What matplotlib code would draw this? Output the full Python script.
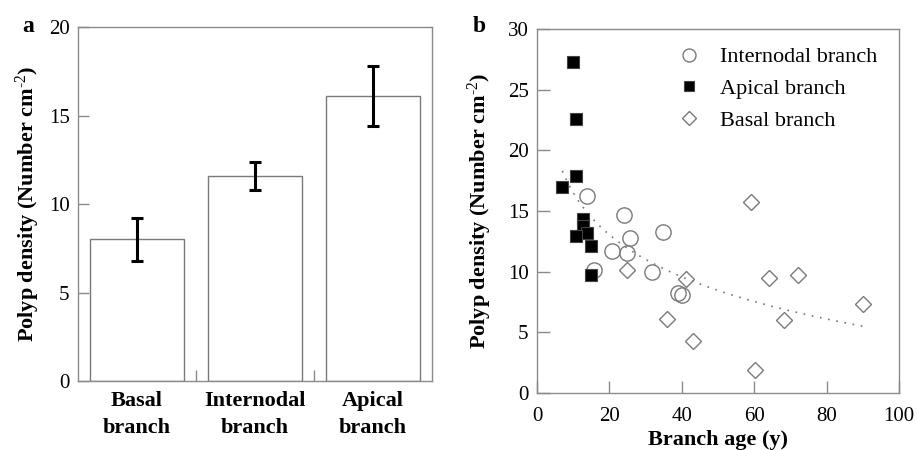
"""Polyp density by branch position (a) and by branch age (b)."""

import matplotlib

matplotlib.use("Agg")
import matplotlib.pyplot as plt
import numpy as np

plt.rcParams["font.family"] = ["Liberation Serif", "DejaVu Serif"]
plt.rcParams["mathtext.fontset"] = "custom"
plt.rcParams["mathtext.rm"] = "Liberation Serif"
plt.rcParams["mathtext.bf"] = "Liberation Serif:bold"
plt.rcParams["mathtext.default"] = "regular"

# panel a
categories = ["Basal\nbranch", "Internodal\nbranch", "Apical\nbranch"]
means = [8.0, 11.6, 16.1]
errors = [1.2, 0.8, 1.7]

# panel b
internodal_age = [13.9, 23.9, 34.9, 25.7, 20.8, 24.9, 15.8, 31.9, 39.0, 40.0]
internodal_density = [16.2, 14.7, 13.3, 12.8, 11.7, 11.5, 10.1, 10.0, 8.2, 8.1]
apical_age = [9.9, 10.9, 10.9, 6.8, 12.8, 12.8, 13.7, 10.8, 14.8, 14.8]
apical_density = [27.3, 22.6, 17.9, 17.0, 14.3, 13.8, 13.2, 12.9, 12.1, 9.7]
basal_age = [24.9, 41.1, 36.0, 43.1, 60.1, 64.2, 68.1, 59.0, 72.1, 90.1]
basal_density = [10.1, 9.4, 6.1, 4.3, 1.9, 9.5, 6.0, 15.7, 9.75, 7.3]
# logarithmic trend: y = a + b*ln(x)
trend_a, trend_b = 28.05, -5.01
trend_range = (7.0, 90.0)

SPINE = "#8a8a8a"
EDGE = "#7a7a7a"
FS = 15
LFS = 16
YLABEL = r"Polyp density (Number cm$^{\text{-2}}$)"

fig = plt.figure(figsize=(9.17, 4.5), dpi=100)

# ---- panel a ----
ax1 = fig.add_axes([0.085, 0.153, 0.386, 0.787])
x = np.arange(len(categories))
ax1.bar(x, means, width=0.8, color="white", edgecolor=EDGE, linewidth=1.0, zorder=2)
ax1.errorbar(x, means, yerr=errors, fmt="none", ecolor="black", elinewidth=2.2,
             capsize=4, capthick=2.2, zorder=3)
ax1.set_xlim(-0.5, 2.5)
ax1.set_ylim(0, 20)
ax1.set_yticks([0, 5, 10, 15, 20])
ax1.set_xticks([0.5, 1.5])
ax1.set_xticklabels([])
ax1.tick_params(axis="y", direction="in", length=8, width=1, color=SPINE,
                labelsize=FS, pad=6)
ax1.tick_params(axis="x", direction="in", length=8, width=1, color=SPINE)
for i, lab in enumerate(categories):
    ax1.text(i, -0.55, lab, ha="center", va="top", fontsize=LFS, fontweight="bold",
             linespacing=1.45)
ax1.set_ylabel(YLABEL, fontsize=LFS, fontweight="bold", labelpad=5)
for s in ax1.spines.values():
    s.set_color(SPINE)
    s.set_linewidth(1.0)
fig.text(0.024, 0.93, "a", fontsize=17, fontweight="bold")

# ---- panel b ----
ax2 = fig.add_axes([0.5856, 0.1267, 0.3948, 0.8089])
ax2.plot(internodal_age, internodal_density, "o", ms=11, mfc="none", mec=EDGE,
         mew=1.0, label="Internodal branch", zorder=3)
ax2.plot(apical_age, apical_density, "s", ms=9, mfc="black", mec="#444444",
         mew=0.8, label="Apical branch", zorder=4)
ax2.plot(basal_age, basal_density, "D", ms=8, mfc="none", mec=EDGE, mew=1.0,
         label="Basal branch", zorder=3)
tx = np.linspace(*trend_range, 200)
ax2.plot(tx, trend_a + trend_b * np.log(tx), linestyle=(0, (1, 4)), color="#777777",
         linewidth=1.2, zorder=2)
ax2.set_xlim(0, 100)
ax2.set_ylim(0, 30)
ax2.set_xticks(np.arange(0, 101, 20))
ax2.set_yticks(np.arange(0, 31, 5))
ax2.tick_params(direction="in", length=9, width=1, color=SPINE, labelsize=FS, pad=6)
ax2.tick_params(axis="x", pad=10)
ax2.set_xlabel("Branch age (y)", fontsize=LFS, fontweight="bold", labelpad=3)
ax2.set_ylabel(YLABEL, fontsize=LFS, fontweight="bold", labelpad=10)
for s in ax2.spines.values():
    s.set_color(SPINE)
    s.set_linewidth(1.0)
ax2.legend(loc="upper right", frameon=False, fontsize=LFS, markerscale=0.85,
           handlelength=1.0, handletextpad=0.9, labelspacing=0.5,
           borderaxespad=0.4, bbox_to_anchor=(0.99, 1.0))
fig.text(0.516, 0.93, "b", fontsize=17, fontweight="bold")

fig.savefig("out.png", dpi=100)
